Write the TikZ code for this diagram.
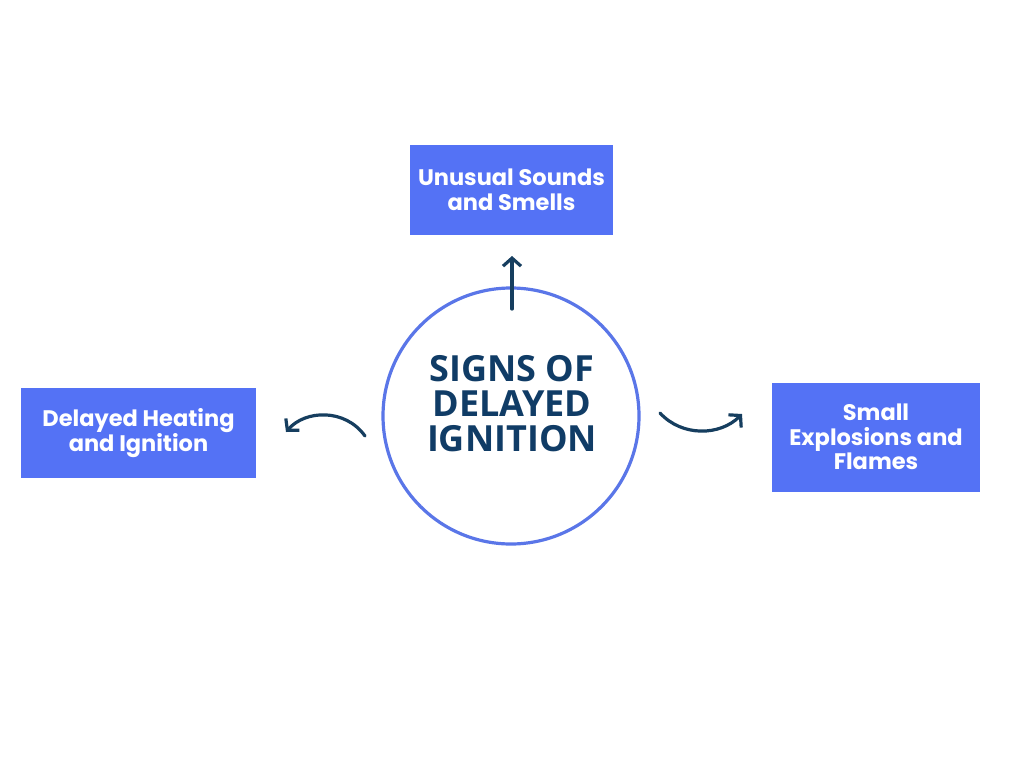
\documentclass[tikz,border=0pt]{standalone}
\usepackage{fontspec}
\setmainfont{Poppins}
\newfontfamily\titlefont{Open Sans}
\usetikzlibrary{arrows.meta}
\definecolor{boxblue}{RGB}{84,114,245}
\definecolor{ringblue}{RGB}{90,118,232}
\definecolor{navy}{RGB}{16,60,102}
\definecolor{arrownavy}{RGB}{22,62,95}
\tikzset{
  box/.style={fill=boxblue, draw=none, text=white, font=\fontsize{22.5}{24.5}\selectfont\bfseries, align=center, inner sep=0pt},
  ring/.style={circle, draw=ringblue, line width=3.2pt, fill=white, minimum size=256pt, inner sep=0pt},
  conn/.style={draw=arrownavy, line width=3.2pt, line cap=round, -{Straight Barb[length=8pt,width=18pt,line width=3.2pt]}}
}
\begin{document}
\begin{tikzpicture}[x=1pt,y=-1pt]
\useasboundingbox (0,0) rectangle (1024,768);
\fill[white] (0,0) rectangle (1024,768);
\node[ring] (c) at (511,416) {};
\node[text=navy, font=\titlefont\fontsize{36}{35}\selectfont\bfseries, align=center] (ct) at (512,404) {SIGNS OF\\DELAYED\\IGNITION};
\node[box, minimum width=203pt, minimum height=90pt] (top) at (511.5,190) {Unusual Sounds\\and Smells};
\node[box, minimum width=235pt, minimum height=90pt] (left) at (138.5,433) {Delayed Heating\\and Ignition};
\node[box, minimum width=208pt, minimum height=109pt] (right) at (876,437) {Small\\Explosions and\\Flames};
\coordinate (t1) at (512,309);
\coordinate (t2) at (512,256);
\coordinate (l1) at (365,436);
\coordinate (l2) at (286,432);
\coordinate (r1) at (660,413);
\coordinate (r2) at (742,414);
\draw[conn] (t1) -- (t2);
\draw[conn] (l1) .. controls (345,408) and (305,410) .. (l2);
\draw[conn] (r1) .. controls (682,437) and (720,436) .. (r2);
\end{tikzpicture}
\end{document}
